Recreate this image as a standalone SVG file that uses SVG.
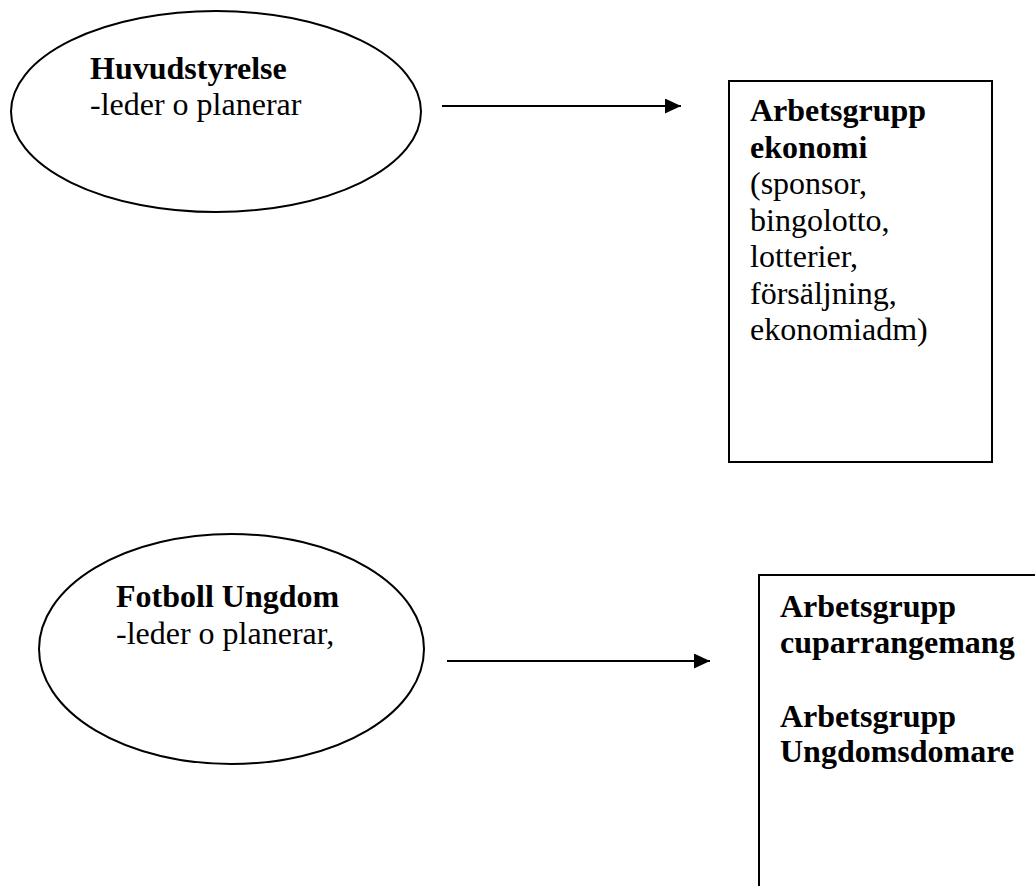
<svg xmlns="http://www.w3.org/2000/svg" width="1035" height="886" viewBox="0 0 1035 886">
<style>
.shape{fill:#fff;stroke:#000;stroke-width:2}
.t{font-family:"Liberation Serif","Times New Roman",serif;font-size:32px;fill:#000}
.b{font-weight:bold}
.conn{stroke:#000;stroke-width:2.2;fill:none}
</style>
<defs>
<marker id="ah" markerUnits="userSpaceOnUse" markerWidth="16" markerHeight="16" refX="16" refY="7.5" orient="auto">
<path d="M0,0 L16,7.5 L0,15 Z" fill="#000"/>
</marker>
</defs>
<rect width="1035" height="886" fill="#fff"/>
<g id="huvudstyrelse">
<ellipse class="shape" cx="216" cy="111.5" rx="205" ry="100.5"/>
<text class="t b" x="90" y="79">Huvudstyrelse</text>
<text class="t" x="90" y="115">-leder o planerar</text>
</g>
<g id="ekonomi">
<rect class="shape" x="729" y="81" width="263" height="381"/>
<text class="t b" x="750" y="121">Arbetsgrupp</text>
<text class="t b" x="750" y="157.5">ekonomi</text>
<text class="t" x="750" y="194">(sponsor,</text>
<text class="t" x="750" y="230.5">bingolotto,</text>
<text class="t" x="750" y="267">lotterier,</text>
<text class="t" x="750" y="303.5">försäljning,</text>
<text class="t" x="750" y="340">ekonomiadm)</text>
</g>
<g id="fotboll-ungdom">
<ellipse class="shape" cx="231.5" cy="649" rx="192.5" ry="115"/>
<text class="t b" x="116" y="607">Fotboll Ungdom</text>
<text class="t" x="116" y="643.5">-leder o planerar,</text>
</g>
<g id="arbetsgrupper">
<rect class="shape" x="759" y="575" width="300" height="350"/>
<text class="t b" x="780" y="617">Arbetsgrupp</text>
<text class="t b" x="780" y="653">cuparrangemang</text>
<text class="t b" x="780" y="726.5">Arbetsgrupp</text>
<text class="t b" x="780" y="762">Ungdomsdomare</text>
</g>
<g id="connectors">
<line class="conn" x1="442" y1="106" x2="681" y2="106" marker-end="url(#ah)"/>
<line class="conn" x1="447" y1="661" x2="710" y2="661" marker-end="url(#ah)"/>
</g>
</svg>
